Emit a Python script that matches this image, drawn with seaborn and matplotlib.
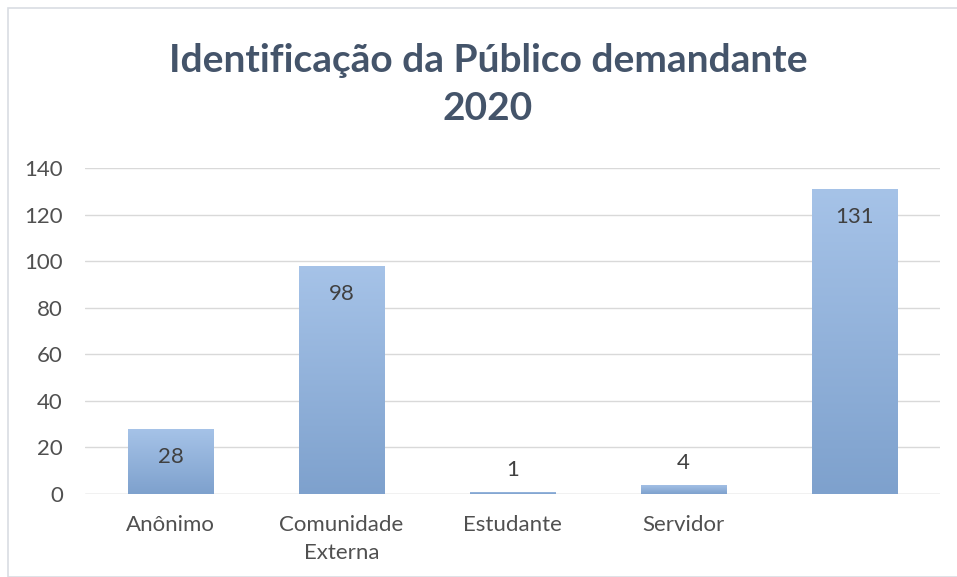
import numpy as np
import matplotlib
matplotlib.use("Agg")
import matplotlib.pyplot as plt
import matplotlib.patches as mpatches
import seaborn as sns
import pandas as pd

categories = ["Anônimo", "Comunidade\nExterna", "Estudante", "Servidor", " "]
values = [28, 98, 1, 4, 131]
y_ticks = [0, 20, 40, 60, 80, 100, 120, 140]

sns.set_theme(style="white")
plt.rcParams['font.family'] = ['Lato', 'DejaVu Sans']

df = pd.DataFrame({"categoria": categories, "total": values})

fig = plt.figure(figsize=(9.57, 5.77), dpi=100)
ax = fig.add_axes([85 / 957, 1 - 494 / 577, 855 / 957, 326 / 577])

sns.barplot(data=df, x="categoria", y="total", color="#8fb0dc", width=0.5,
            saturation=1, ax=ax, zorder=2)

# gradient fill per bar (light top, darker bottom)
grad = np.linspace(0, 1, 256).reshape(-1, 1)
cmap = matplotlib.colors.LinearSegmentedColormap.from_list("g", ["#7ea1cd", "#a6c3e8"])
for bar in ax.patches:
    x0, y0 = bar.get_x(), bar.get_y()
    w, h = bar.get_width(), bar.get_height()
    im = ax.imshow(grad, cmap=cmap, aspect="auto", origin="lower",
                   extent=[x0, x0 + w, y0, y0 + h], zorder=3)
    im.set_clip_path(bar)
    bar.set_edgecolor("none")

for bar, v in zip(ax.patches, values):
    cx = bar.get_x() + bar.get_width() / 2
    if v < 10:
        ax.text(cx, v + 9.5, str(v), ha="center", va="center", fontsize=16,
                color="#404040", zorder=4)
    else:
        ax.text(cx, v - 12, str(v), ha="center", va="center", fontsize=16,
                color="#404040", zorder=4)

ax.set_xlim(-0.5, 4.5)
ax.set_ylim(0, 140)
ax.set_yticks(y_ticks)
ax.yaxis.grid(True, color="#d9d9d9", linewidth=1, zorder=0)
ax.set_axisbelow(True)
for s in ax.spines.values():
    s.set_visible(False)
ax.axhline(0, color="#d9d9d9", linewidth=1, zorder=1)
ax.tick_params(axis="both", length=0, labelsize=16, labelcolor="#505050")
ax.tick_params(axis="y", pad=16)
ax.tick_params(axis="x", pad=15)
for lbl in ax.get_xticklabels():
    lbl.set_linespacing(1.5)
ax.set_xlabel("")
ax.set_ylabel("")

fig.text(488 / 957, 1 - 60 / 577, "Identificação da Público demandante",
         ha="center", va="center", fontsize=28, fontweight="bold",
         color="#44546a")
fig.text(488 / 957, 1 - 108 / 577, "2020",
         ha="center", va="center", fontsize=28, fontweight="bold",
         color="#44546a")

# outer chart frame
fig.patches.append(mpatches.Rectangle((8 / 957, 0), 1.1, 1 - 8 / 577,
                                      transform=fig.transFigure, fill=False,
                                      edgecolor="#d9dde3", linewidth=1.2))

fig.savefig("out.png", dpi=100)
